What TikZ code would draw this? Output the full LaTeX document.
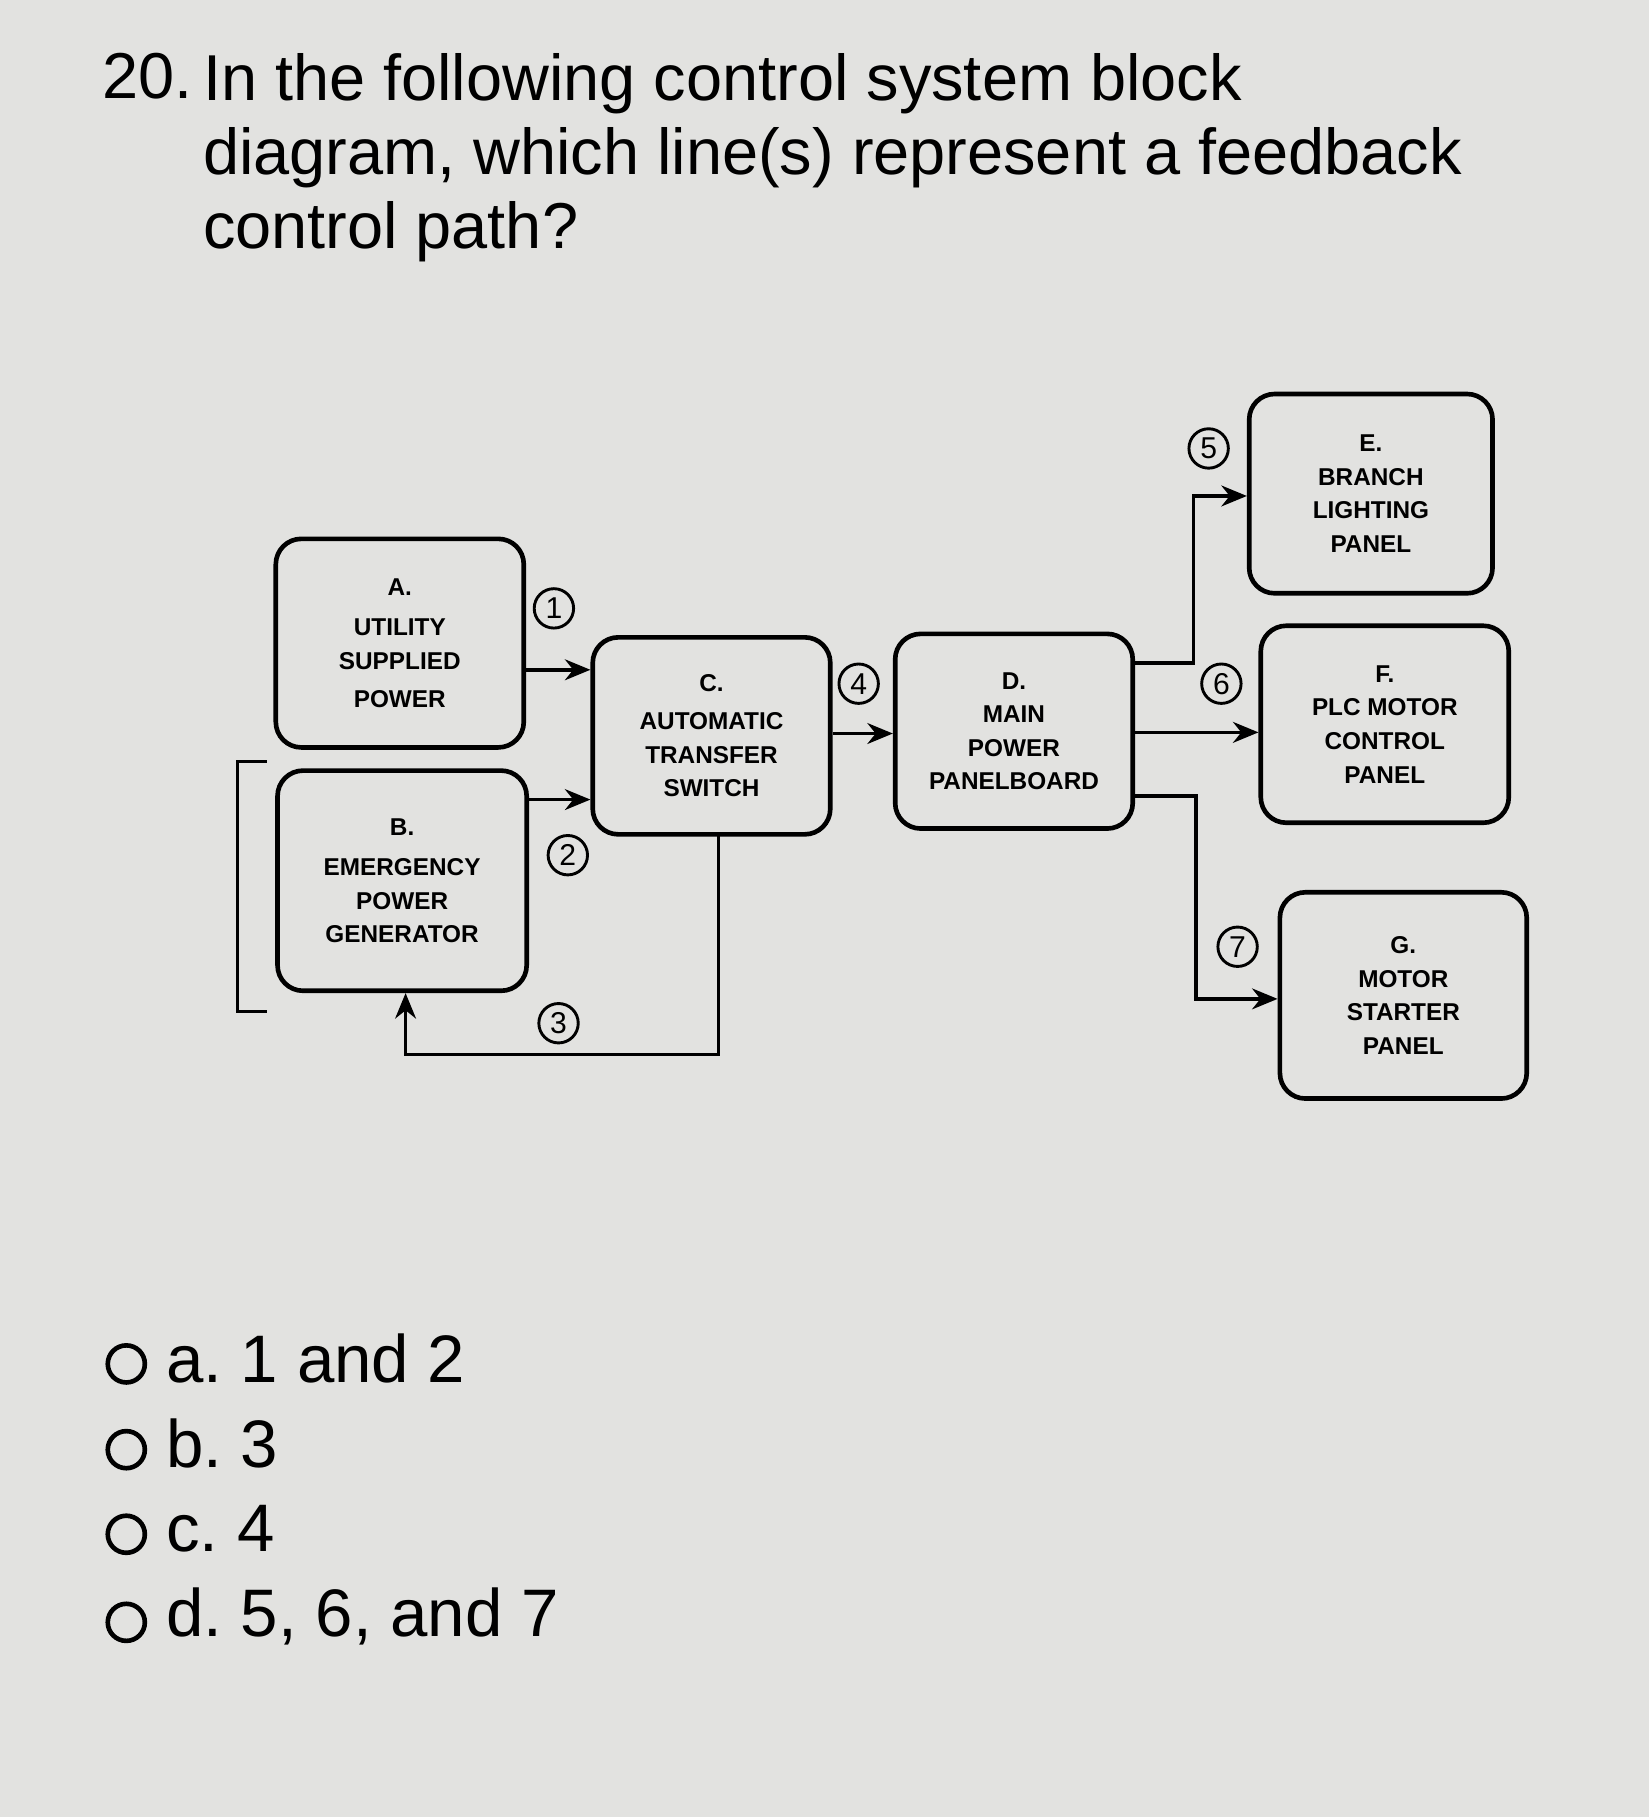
\documentclass[tikz,border=0pt]{standalone}
\usepackage{fontspec}
\setmainfont{Liberation Sans}
\usetikzlibrary{arrows.meta}
\definecolor{paper}{RGB}{226,226,224}
\tikzset{
 blk/.style={draw,line width=4pt,rounded corners=22pt,align=center,font=\fontsize{21}{29}\selectfont\bfseries,inner sep=0pt},
 con/.style={line width=3pt},
 arr/.style={con,-{Stealth[length=22pt,width=18pt]}},
 num/.style={circle,draw,line width=2.5pt,minimum size=34pt,inner sep=0pt,font=\fontsize{26}{26}\selectfont},
 opt/.style={circle,draw,line width=4pt,minimum size=32pt,inner sep=0pt},
 otext/.style={anchor=west,font=\fontsize{58}{60}\selectfont},
}
\begin{document}
\frenchspacing
\begin{tikzpicture}[x=1pt,y=-1pt]
\fill[paper] (0,0) rectangle (1423,1568);
\useasboundingbox (0,0) rectangle (1423,1568);
\node[anchor=north west,inner sep=0pt,font=\fontsize{56}{64}\selectfont] (num) at (88,46) {20.};
\node[anchor=north west,align=left,inner sep=0pt,font=\fontsize{56}{64}\selectfont] (title) at (175,46)
 {In the following control system block\\
 diagram, which line(s) represent a feedback\\
 control path?};
\node[blk,minimum width=214pt,minimum height=180pt] (A) at (345,555) {A.\\[6pt]UTILITY\\SUPPLIED\\[4pt]POWER};
\node[blk,minimum width=215pt,minimum height=190pt] (B) at (347,760) {B.\\[6pt]EMERGENCY\\POWER\\GENERATOR};
\node[blk,minimum width=205pt,minimum height=170pt] (C) at (614,635) {C.\\[4pt]AUTOMATIC\\TRANSFER\\SWITCH};
\node[blk,minimum width=205pt,minimum height=168pt] (D) at (875,631) {D.\\MAIN\\POWER\\PANELBOARD};
\node[blk,minimum width=210pt,minimum height=172pt] (E) at (1183,426) {E.\\BRANCH\\LIGHTING\\PANEL};
\node[blk,minimum width=214pt,minimum height=170pt] (F) at (1195,625) {F.\\PLC MOTOR\\CONTROL\\PANEL};
\node[blk,minimum width=213pt,minimum height=178pt] (G) at (1211,859) {G.\\MOTOR\\STARTER\\PANEL};
\draw[con] (230,657) -- (205,657) -- (205,873) -- (230,873);
\draw[arr] (A.east |- 0,578) -- (C.west |- 0,578);
\draw[arr] (B.east |- 0,690) -- (C.west |- 0,690);
\draw[arr] (C.east |- 0,633) -- (D.west |- 0,633);
\coordinate (d1) at (1030,572);
\coordinate (d2) at (1032,687);
\draw[arr] (D.east |- d1) -- (d1) -- (1030,428) -- (E.west |- 0,428);
\draw[arr] (D.east |- 0,632) -- (F.west |- 0,632);
\draw[arr] (D.east |- d2) -- (d2) -- (1032,862) -- (G.west |- 0,862);
\draw[arr] (620,720) -- (620,910) -- (350,910) -- (B.south -| 350,0);
\node[num] (n1) at (478,525) {1};
\node[num] (n2) at (490,738) {2};
\node[num] (n3) at (482,883) {3};
\node[num] (n4) at (741,590) {4};
\node[num] (n5) at (1043,387) {5};
\node[num] (n6) at (1054,590) {6};
\node[num] (n7) at (1068,817) {7};
\node[opt] (oa) at (109,1177) {};
\node[opt] (ob) at (109,1251) {};
\node[opt] (oc) at (109,1324) {};
\node[opt] (od) at (109,1400) {};
\node[otext] (ta) at (140,1172) {a. 1 and 2};
\node[otext] (tb) at (140,1246) {b. 3};
\node[otext] (tc) at (140,1319) {c. 4};
\node[otext] (td) at (140,1395) {d. 5, 6, and 7};
\end{tikzpicture}
\end{document}
